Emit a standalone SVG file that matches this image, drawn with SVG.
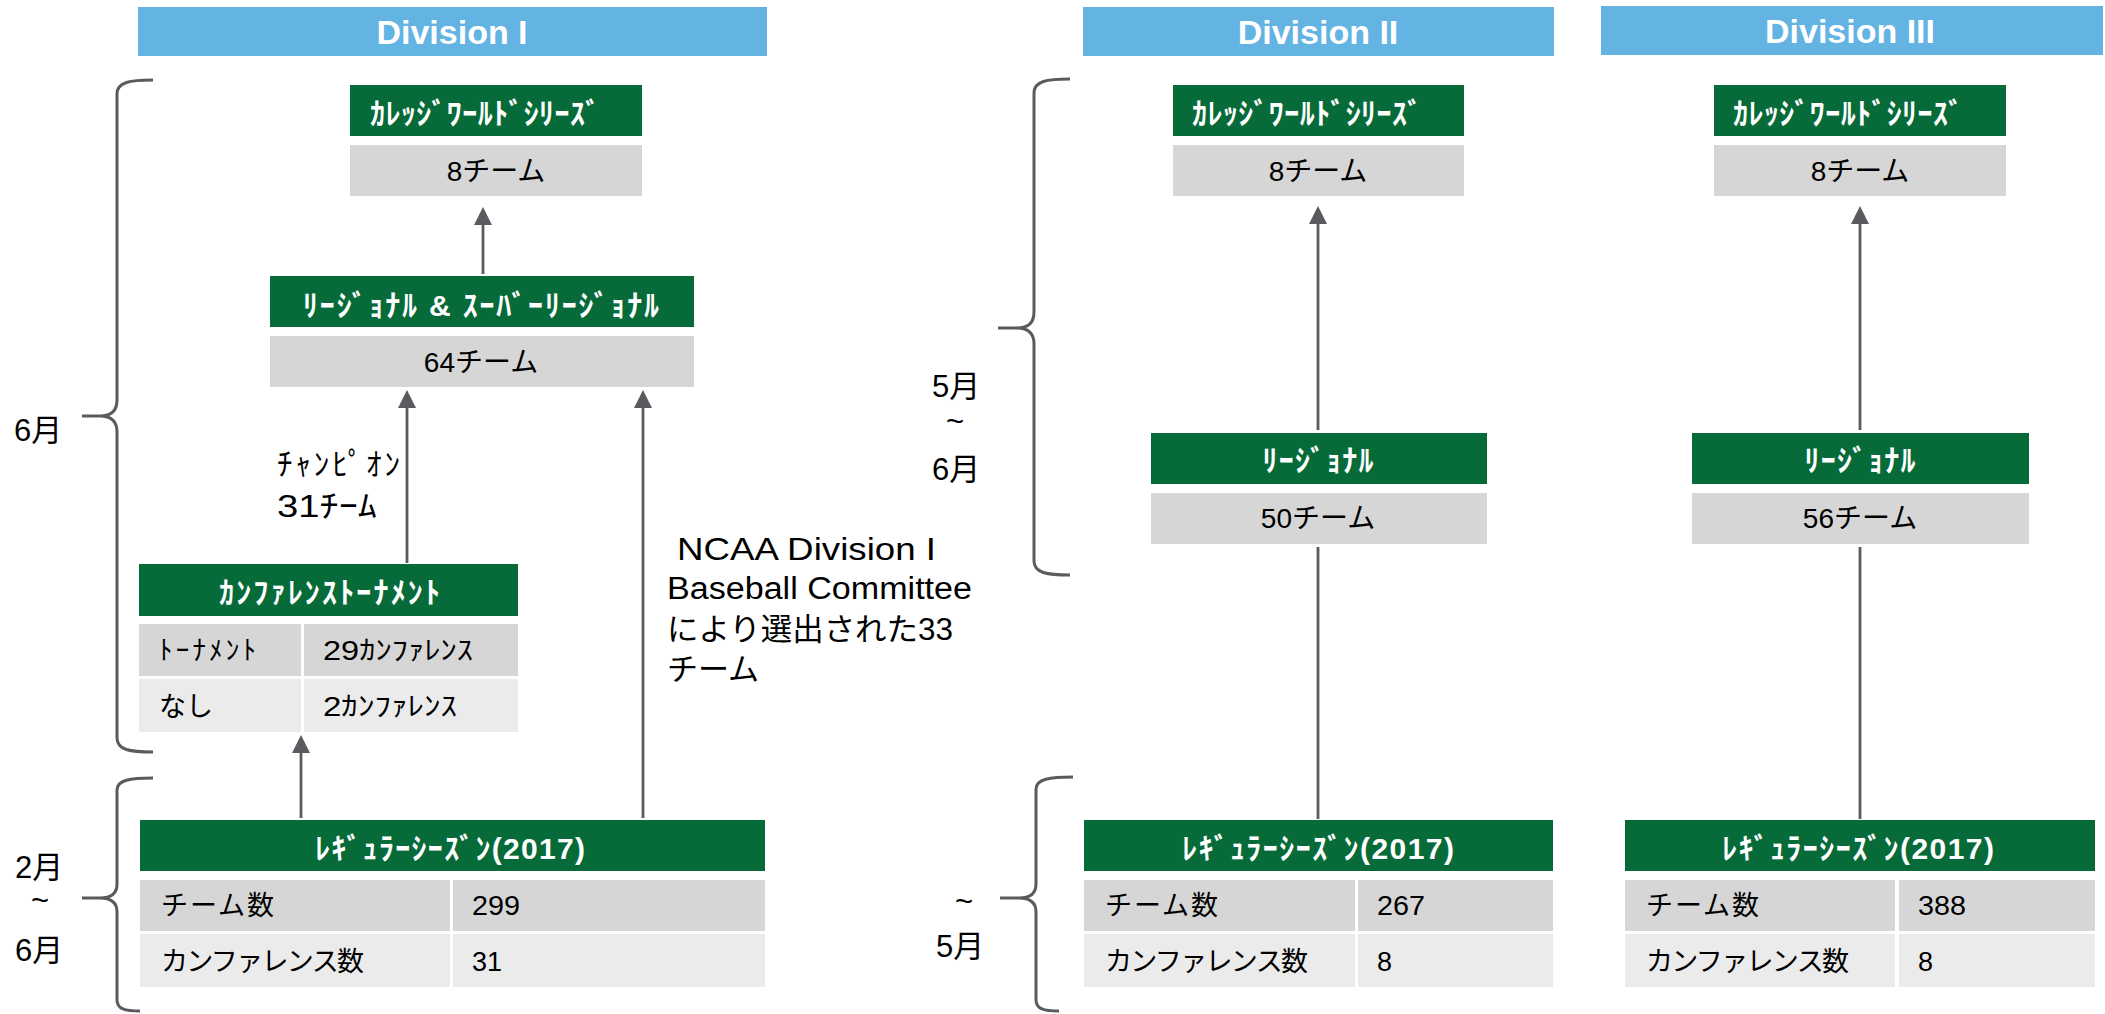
<svg xmlns="http://www.w3.org/2000/svg" width="2105" height="1014" viewBox="0 0 2105 1014">
<style>
.hdr{fill:#63b3e3}
.hdrt{font-family:"Liberation Sans",Arial,sans-serif;font-weight:bold;font-size:34px;fill:#fff;text-anchor:middle}
.g{fill:#076b39}
.c1{fill:#d6d6d6}
.c2{fill:#ebebeb}
.wt{font-family:"Liberation Sans","Noto Sans CJK JP",sans-serif;font-weight:bold;font-size:30px;fill:#fff}
.bt{font-family:"Liberation Sans","Noto Sans CJK JP",sans-serif;font-size:27px;fill:#000}
.gt{font-family:"Liberation Sans","Noto Sans CJK JP",sans-serif;font-size:28px;fill:#000;text-anchor:middle}
.mt{font-family:"Liberation Sans","Noto Sans CJK JP",sans-serif;font-size:31px;fill:#000}
.br{fill:none;stroke:#5a5b5e;stroke-width:3}
.cn{fill:none;stroke:#5a5b5e;stroke-width:2.8}
.mid{text-anchor:middle}
</style>
<defs>
<marker id="ah" markerUnits="userSpaceOnUse" markerWidth="18" markerHeight="18" viewBox="0 0 18 18" refX="0" refY="9" orient="auto">
<path d="M0,0 L18,9 L0,18 z" fill="#5a5b5e"/>
</marker>
</defs>
<rect width="2105" height="1014" fill="#fff"/>

<!-- Division headers -->
<g id="hdr-d1"><rect class="hdr" x="138" y="7" width="629" height="49"/><text class="hdrt" x="452" y="44">Division I</text></g>
<g id="hdr-d2"><rect class="hdr" x="1083" y="7" width="471" height="49"/><text class="hdrt" x="1318" y="44">Division II</text></g>
<g id="hdr-d3"><rect class="hdr" x="1601" y="6" width="502" height="49"/><text class="hdrt" x="1850" y="43">Division III</text></g>

<!-- Braces and month labels -->
<g id="brace-d1-top">
<path class="br" d="M153,80 C130,80 117,82 117,94 L117,400 C117,410 112,416 100,416 L82,416 M100,416 C112,416 117,422 117,432 L117,738 C117,750 130,752 153,752"/>
<text class="mt" x="14" y="441">6月</text>
</g>
<g id="brace-d1-bottom">
<path class="br" d="M153,778 C130,778 117,780 117,790 L117,884 C117,893 112,898 100,898 L82,898 M100,898 C112,898 117,903 117,912 L117,1000 C117,1009 125,1011 140,1011"/>
<text class="mt" x="15" y="878">2月</text>
<text class="mt mid" x="40" y="911">~</text>
<text class="mt" x="15" y="961">6月</text>
</g>
<g id="brace-mid-top">
<path class="br" d="M1070,79 C1047,79 1034,81 1034,93 L1034,312 C1034,322 1029,328 1017,328 L998,328 M1017,328 C1029,328 1034,334 1034,344 L1034,561 C1034,573 1047,575 1070,575"/>
<text class="mt" x="932" y="397">5月</text>
<text class="mt mid" x="955" y="432">~</text>
<text class="mt" x="932" y="480">6月</text>
</g>
<g id="brace-mid-bottom">
<path class="br" d="M1073,777 C1050,777 1036,779 1036,789 L1036,884 C1036,893 1031,898 1019,898 L1000,898 M1019,898 C1031,898 1036,903 1036,912 L1036,1000 C1036,1009 1044,1011 1059,1011"/>
<text class="mt mid" x="964" y="912">~</text>
<text class="mt" x="936" y="957">5月</text>
</g>

<!-- Connectors -->
<g id="connectors">
<line class="cn" x1="483" y1="274" x2="483" y2="225" marker-end="url(#ah)"/>
<line class="cn" x1="407" y1="563" x2="407" y2="408" marker-end="url(#ah)"/>
<line class="cn" x1="643" y1="818" x2="643" y2="408" marker-end="url(#ah)"/>
<line class="cn" x1="301" y1="818" x2="301" y2="753" marker-end="url(#ah)"/>
<line class="cn" x1="1318" y1="430" x2="1318" y2="224" marker-end="url(#ah)"/>
<line class="cn" x1="1318" y1="547" x2="1318" y2="819"/>
<line class="cn" x1="1860" y1="430" x2="1860" y2="224" marker-end="url(#ah)"/>
<line class="cn" x1="1860" y1="547" x2="1860" y2="819"/>
<text class="mt" x="277" y="475" textLength="123">ﾁｬﾝﾋﾟｵﾝ</text>
<text class="mt" x="277" y="517" font-size="32" textLength="100" lengthAdjust="spacingAndGlyphs">31ﾁｰﾑ</text>
<text class="mt" x="677" y="560" textLength="259" lengthAdjust="spacingAndGlyphs">NCAA Division I</text>
<text class="mt" x="667" y="599" textLength="305" lengthAdjust="spacingAndGlyphs">Baseball Committee</text>
<text class="mt" x="667" y="640" textLength="286" lengthAdjust="spacingAndGlyphs">により選出された33</text>
<text class="mt" x="667" y="680">チーム</text>
</g>

<!-- Division I -->
<g id="d1-cws">
<rect class="g" x="350" y="85" width="292" height="51"/>
<text class="wt" x="370" y="124" textLength="230">ｶﾚｯｼﾞﾜｰﾙﾄﾞｼﾘｰｽﾞ</text>
<rect class="c1" x="350" y="145" width="292" height="51"/>
<text class="gt" x="496" y="181">8チーム</text>
</g>
<g id="d1-regional">
<rect class="g" x="270" y="276" width="424" height="51"/>
<text class="wt" x="303" y="316" textLength="356">ﾘｰｼﾞｮﾅﾙ  &amp; ｽｰﾊﾞｰﾘｰｼﾞｮﾅﾙ</text>
<rect class="c1" x="270" y="336" width="424" height="51"/>
<text class="gt" x="481" y="372">64チーム</text>
</g>
<g id="d1-conference">
<rect class="g" x="139" y="564" width="379" height="52"/>
<text class="wt" x="219" y="603" textLength="221">ｶﾝﾌｧﾚﾝｽﾄｰﾅﾒﾝﾄ</text>
<rect class="c1" x="139" y="624" width="162" height="52"/>
<rect class="c1" x="304" y="624" width="214" height="52"/>
<rect class="c2" x="139" y="679" width="162" height="53"/>
<rect class="c2" x="304" y="679" width="214" height="53"/>
<text class="bt" x="159" y="660" font-size="27" textLength="97">ﾄｰﾅﾒﾝﾄ</text>
<text class="bt" x="323" y="660" font-size="27" textLength="150" lengthAdjust="spacingAndGlyphs">29ｶﾝﾌｧﾚﾝｽ</text>
<text class="bt" x="159" y="716" font-size="24">なし</text>
<text class="bt" x="323" y="716" font-size="27" textLength="134" lengthAdjust="spacingAndGlyphs">2ｶﾝﾌｧﾚﾝｽ</text>
</g>
<g id="d1-season">
<rect class="g" x="140" y="820" width="625" height="51"/>
<text class="wt" x="315" y="859" textLength="270">ﾚｷﾞｭﾗｰｼｰｽﾞﾝ(2017)</text>
<rect class="c1" x="140" y="880" width="310" height="51"/>
<rect class="c1" x="453" y="880" width="312" height="51"/>
<rect class="c2" x="140" y="934" width="310" height="53"/>
<rect class="c2" x="453" y="934" width="312" height="53"/>
<text class="bt" x="161" y="915" textLength="113">チーム数</text>
<text class="bt" x="472" y="915" textLength="48" lengthAdjust="spacingAndGlyphs">299</text>
<text class="bt" x="161" y="971" textLength="203">カンファレンス数</text>
<text class="bt" x="472" y="971" textLength="30" lengthAdjust="spacingAndGlyphs">31</text>
</g>

<!-- Division II -->
<g id="d2-cws">
<rect class="g" x="1173" y="85" width="291" height="51"/>
<text class="wt" x="1192" y="124" textLength="230">ｶﾚｯｼﾞﾜｰﾙﾄﾞｼﾘｰｽﾞ</text>
<rect class="c1" x="1173" y="145" width="291" height="51"/>
<text class="gt" x="1318" y="181">8チーム</text>
</g>
<g id="d2-regional">
<rect class="g" x="1151" y="433" width="336" height="51"/>
<text class="wt mid" x="1318" y="471" textLength="111">ﾘｰｼﾞｮﾅﾙ</text>
<rect class="c1" x="1151" y="493" width="336" height="51"/>
<text class="gt" x="1318" y="528">50チーム</text>
</g>
<g id="d2-season">
<rect class="g" x="1084" y="820" width="469" height="51"/>
<text class="wt mid" x="1318" y="859" textLength="272">ﾚｷﾞｭﾗｰｼｰｽﾞﾝ(2017)</text>
<rect class="c1" x="1084" y="880" width="271" height="51"/>
<rect class="c1" x="1358" y="880" width="195" height="51"/>
<rect class="c2" x="1084" y="934" width="271" height="53"/>
<rect class="c2" x="1358" y="934" width="195" height="53"/>
<text class="bt" x="1105" y="915" textLength="113">チーム数</text>
<text class="bt" x="1377" y="915" textLength="48" lengthAdjust="spacingAndGlyphs">267</text>
<text class="bt" x="1105" y="971" textLength="203">カンファレンス数</text>
<text class="bt" x="1377" y="971">8</text>
</g>

<!-- Division III -->
<g id="d3-cws">
<rect class="g" x="1714" y="85" width="292" height="51"/>
<text class="wt" x="1733" y="124" textLength="230">ｶﾚｯｼﾞﾜｰﾙﾄﾞｼﾘｰｽﾞ</text>
<rect class="c1" x="1714" y="145" width="292" height="51"/>
<text class="gt" x="1860" y="181">8チーム</text>
</g>
<g id="d3-regional">
<rect class="g" x="1692" y="433" width="337" height="51"/>
<text class="wt mid" x="1860" y="471" textLength="111">ﾘｰｼﾞｮﾅﾙ</text>
<rect class="c1" x="1692" y="493" width="337" height="51"/>
<text class="gt" x="1860" y="528">56チーム</text>
</g>
<g id="d3-season">
<rect class="g" x="1625" y="820" width="470" height="51"/>
<text class="wt mid" x="1858" y="859" textLength="272">ﾚｷﾞｭﾗｰｼｰｽﾞﾝ(2017)</text>
<rect class="c1" x="1625" y="880" width="270" height="51"/>
<rect class="c1" x="1899" y="880" width="196" height="51"/>
<rect class="c2" x="1625" y="934" width="270" height="53"/>
<rect class="c2" x="1899" y="934" width="196" height="53"/>
<text class="bt" x="1646" y="915" textLength="113">チーム数</text>
<text class="bt" x="1918" y="915" textLength="48" lengthAdjust="spacingAndGlyphs">388</text>
<text class="bt" x="1646" y="971" textLength="203">カンファレンス数</text>
<text class="bt" x="1918" y="971">8</text>
</g>
</svg>
